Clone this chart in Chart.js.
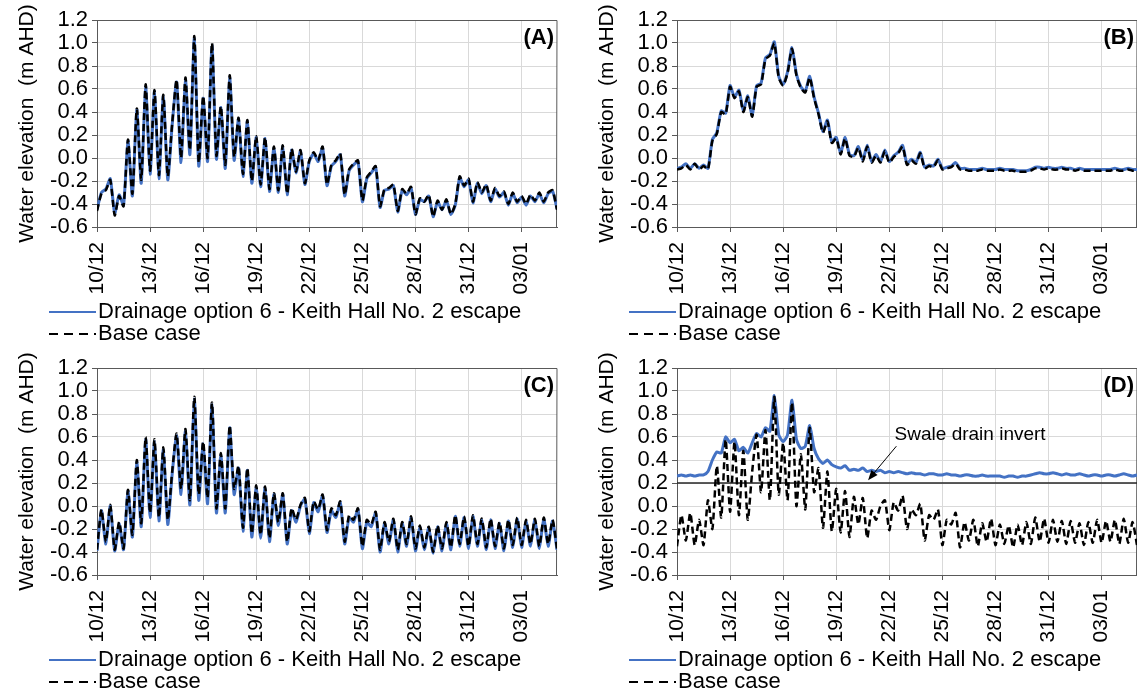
<!DOCTYPE html>
<html>
<head>
<meta charset="utf-8">
<script src="https://cdn.jsdelivr.net/npm/chart.js@4.4.1/dist/chart.umd.min.js"></script>
<style>
  html, body { margin: 0; padding: 0; background: #fff; overflow: hidden; }
  #page { position: relative; width: 1137px; height: 693px; overflow: hidden; }
  .panel { position: absolute; width: 570px; height: 347px; }
</style>
</head>
<body>
<div id="page">
  <div class="panel" style="left:0;top:0"><canvas id="chartA"></canvas></div>
  <div class="panel" style="left:580px;top:0"><canvas id="chartB"></canvas></div>
  <div class="panel" style="left:0;top:348px"><canvas id="chartC"></canvas></div>
  <div class="panel" style="left:580px;top:348px"><canvas id="chartD"></canvas></div>
</div>
<script>
// x axis: days after 10/12 00:00, one value every 6 hours
const stepDays = 0.25;
const tickDays = [0, 3, 6, 9, 12, 15, 18, 21, 24];
const tickLabels = ['10/12', '13/12', '16/12', '19/12', '22/12', '25/12', '28/12', '31/12', '03/01'];
const yTicks = [-0.6, -0.4, -0.2, 0.0, 0.2, 0.4, 0.6, 0.8, 1.0, 1.2];

const optionLabel = 'Drainage option 6 - Keith Hall No. 2 escape';
const baseLabel = 'Base case';

// (A)
const optionA = [
  -0.45, -0.30, -0.27, -0.18, -0.48, -0.32, -0.41, 0.15,
  -0.33, 0.42, -0.22, 0.62, -0.14, 0.58, -0.18, 0.54,
  -0.19, 0.29, 0.66, -0.04, 0.68, 0.03, 1.04, -0.07,
  0.52, -0.03, 0.98, -0.01, 0.44, -0.09, 0.70, -0.02,
  0.34, -0.16, 0.32, -0.22, 0.18, -0.25, 0.17, -0.29,
  0.09, -0.30, 0.10, -0.32, 0.07, -0.13, 0.06, -0.23,
  -0.03, 0.04, -0.03, 0.09, -0.24, -0.07, -0.03, 0.03,
  -0.33, -0.11, -0.06, -0.03, -0.38, -0.18, -0.13, -0.08,
  -0.43, -0.28, -0.27, -0.24, -0.47, -0.28, -0.32, -0.26,
  -0.49, -0.36, -0.38, -0.33, -0.51, -0.38, -0.45, -0.37,
  -0.49, -0.41, -0.17, -0.25, -0.19, -0.39, -0.22, -0.31,
  -0.24, -0.38, -0.27, -0.34, -0.30, -0.41, -0.31, -0.39,
  -0.34, -0.41, -0.33, -0.38, -0.31, -0.39, -0.31, -0.29,
  -0.44
];
const baseA = [
  -0.46, -0.31, -0.28, -0.19, -0.50, -0.33, -0.42, 0.16,
  -0.31, 0.43, -0.19, 0.64, -0.11, 0.59, -0.15, 0.55,
  -0.16, 0.30, 0.68, 0.00, 0.70, 0.07, 1.06, -0.04,
  0.54, 0.00, 1.00, 0.02, 0.45, -0.06, 0.72, 0.01,
  0.35, -0.14, 0.33, -0.20, 0.19, -0.23, 0.18, -0.27,
  0.10, -0.28, 0.11, -0.31, 0.08, -0.12, 0.07, -0.22,
  -0.02, 0.05, -0.02, 0.10, -0.23, -0.06, -0.02, 0.04,
  -0.32, -0.10, -0.05, -0.02, -0.37, -0.17, -0.12, -0.07,
  -0.42, -0.27, -0.26, -0.23, -0.46, -0.27, -0.31, -0.25,
  -0.49, -0.35, -0.38, -0.32, -0.51, -0.37, -0.45, -0.36,
  -0.49, -0.40, -0.16, -0.24, -0.18, -0.38, -0.21, -0.30,
  -0.23, -0.37, -0.26, -0.33, -0.29, -0.40, -0.30, -0.38,
  -0.33, -0.40, -0.32, -0.37, -0.30, -0.38, -0.30, -0.28,
  -0.45
];

// (B)
const optionB = [
  -0.09, -0.08, -0.05, -0.09, -0.05, -0.09, -0.06, -0.09,
  0.16, 0.22, 0.41, 0.39, 0.63, 0.53, 0.59, 0.41,
  0.54, 0.37, 0.63, 0.65, 0.87, 0.90, 1.01, 0.71,
  0.64, 0.75, 0.96, 0.73, 0.62, 0.58, 0.71, 0.53,
  0.39, 0.23, 0.33, 0.14, 0.18, 0.04, 0.18, 0.03,
  0.02, 0.10, -0.02, 0.11, -0.03, 0.03, -0.03, 0.07,
  -0.03, 0.02, 0.05, 0.11, -0.05, -0.01, -0.04, 0.05,
  -0.08, -0.06, -0.07, -0.01, -0.09, -0.08, -0.07, -0.04,
  -0.09, -0.09, -0.10, -0.10, -0.10, -0.09, -0.10, -0.10,
  -0.10, -0.09, -0.10, -0.10, -0.10, -0.11, -0.11, -0.11,
  -0.10, -0.08, -0.08, -0.09, -0.08, -0.09, -0.09, -0.08,
  -0.09, -0.09, -0.10, -0.09, -0.10, -0.10, -0.10, -0.10,
  -0.10, -0.10, -0.10, -0.09, -0.10, -0.10, -0.09, -0.10,
  -0.10
];
const baseB = [
  -0.10, -0.09, -0.06, -0.10, -0.05, -0.10, -0.07, -0.10,
  0.15, 0.21, 0.40, 0.38, 0.62, 0.52, 0.58, 0.40,
  0.53, 0.36, 0.62, 0.64, 0.86, 0.89, 1.00, 0.70,
  0.63, 0.74, 0.95, 0.72, 0.61, 0.57, 0.70, 0.52,
  0.38, 0.22, 0.32, 0.13, 0.17, 0.03, 0.17, 0.02,
  0.01, 0.09, -0.03, 0.10, -0.04, 0.02, -0.04, 0.06,
  -0.04, 0.01, 0.04, 0.10, -0.06, -0.02, -0.05, 0.04,
  -0.09, -0.07, -0.08, -0.02, -0.10, -0.09, -0.08, -0.05,
  -0.10, -0.10, -0.11, -0.11, -0.11, -0.10, -0.11, -0.11,
  -0.11, -0.10, -0.11, -0.11, -0.11, -0.12, -0.12, -0.12,
  -0.11, -0.09, -0.09, -0.10, -0.09, -0.10, -0.10, -0.09,
  -0.10, -0.10, -0.11, -0.10, -0.11, -0.11, -0.11, -0.11,
  -0.11, -0.11, -0.11, -0.10, -0.11, -0.11, -0.10, -0.11,
  -0.11
];

// (C)
const optionC = [
  -0.39, -0.04, -0.33, 0.00, -0.39, -0.15, -0.38, 0.13,
  -0.27, 0.38, -0.18, 0.58, -0.10, 0.56, -0.13, 0.49,
  -0.16, 0.28, 0.61, 0.10, 0.65, 0.01, 0.93, 0.05,
  0.54, 0.02, 0.88, -0.06, 0.44, -0.06, 0.68, 0.10,
  0.33, -0.22, 0.31, -0.27, 0.16, -0.28, 0.16, -0.31,
  0.10, -0.17, 0.10, -0.33, -0.04, -0.14, 0.00, 0.06,
  -0.24, 0.03, -0.05, 0.09, -0.23, -0.04, -0.10, 0.03,
  -0.33, -0.10, -0.14, -0.03, -0.37, -0.14, -0.18, -0.06,
  -0.40, -0.15, -0.33, -0.12, -0.40, -0.15, -0.35, -0.10,
  -0.39, -0.18, -0.38, -0.19, -0.41, -0.18, -0.39, -0.15,
  -0.38, -0.09, -0.35, -0.10, -0.37, -0.09, -0.35, -0.12,
  -0.38, -0.12, -0.37, -0.15, -0.39, -0.13, -0.36, -0.11,
  -0.36, -0.13, -0.35, -0.12, -0.37, -0.11, -0.35, -0.13,
  -0.38
];
const baseC = [
  -0.38, -0.03, -0.31, 0.01, -0.38, -0.14, -0.37, 0.14,
  -0.25, 0.40, -0.15, 0.60, -0.06, 0.58, -0.10, 0.51,
  -0.12, 0.30, 0.63, 0.15, 0.67, 0.05, 0.95, 0.10,
  0.56, 0.07, 0.90, -0.02, 0.46, -0.02, 0.70, 0.15,
  0.35, -0.19, 0.33, -0.24, 0.18, -0.25, 0.17, -0.28,
  0.11, -0.14, 0.11, -0.31, -0.02, -0.12, 0.01, 0.07,
  -0.22, 0.04, -0.03, 0.10, -0.21, -0.02, -0.08, 0.04,
  -0.31, -0.08, -0.12, -0.02, -0.35, -0.12, -0.16, -0.05,
  -0.38, -0.14, -0.31, -0.11, -0.38, -0.14, -0.33, -0.09,
  -0.37, -0.17, -0.36, -0.18, -0.40, -0.17, -0.37, -0.14,
  -0.36, -0.08, -0.33, -0.09, -0.35, -0.08, -0.33, -0.11,
  -0.36, -0.11, -0.35, -0.14, -0.37, -0.12, -0.34, -0.10,
  -0.34, -0.12, -0.33, -0.11, -0.35, -0.10, -0.33, -0.12,
  -0.37
];

// (D)
const optionD = [
  0.26, 0.27, 0.26, 0.27, 0.26, 0.27, 0.27, 0.30,
  0.40, 0.47, 0.46, 0.60, 0.55, 0.58, 0.48, 0.51,
  0.46, 0.55, 0.63, 0.60, 0.68, 0.65, 0.96, 0.62,
  0.56, 0.62, 0.92, 0.58, 0.50, 0.52, 0.70, 0.50,
  0.41, 0.37, 0.40, 0.36, 0.34, 0.33, 0.35, 0.31,
  0.32, 0.31, 0.33, 0.30, 0.31, 0.30, 0.31, 0.29,
  0.30, 0.29, 0.30, 0.29, 0.28, 0.29, 0.28, 0.28,
  0.27, 0.28, 0.28, 0.27, 0.27, 0.28, 0.27, 0.27,
  0.26, 0.27, 0.27, 0.26, 0.26, 0.27, 0.26, 0.26,
  0.26, 0.26, 0.25, 0.26, 0.26, 0.25, 0.26, 0.26,
  0.27, 0.28, 0.29, 0.28, 0.28, 0.29, 0.28, 0.27,
  0.28, 0.27, 0.27, 0.28, 0.27, 0.26, 0.27, 0.27,
  0.26, 0.27, 0.27, 0.26, 0.27, 0.28, 0.27, 0.26,
  0.27
];
const baseD = [
  -0.35, -0.08, -0.30, -0.06, -0.34, -0.12, -0.34, 0.05,
  -0.20, 0.35, -0.10, 0.58, -0.05, 0.56, -0.08, 0.48,
  -0.12, 0.30, 0.62, 0.12, 0.66, 0.05, 0.95, 0.10,
  0.55, 0.05, 0.90, 0.00, 0.45, -0.03, 0.68, 0.12,
  0.33, -0.19, 0.30, -0.22, 0.15, -0.23, 0.13, -0.27,
  0.08, -0.16, 0.07, -0.28, -0.04, -0.12, 0.00, 0.05,
  -0.21, 0.03, -0.04, 0.09, -0.20, -0.03, -0.08, 0.02,
  -0.30, -0.08, -0.12, -0.03, -0.34, -0.12, -0.16, -0.06,
  -0.36, -0.14, -0.30, -0.12, -0.35, -0.15, -0.31, -0.11,
  -0.34, -0.16, -0.33, -0.17, -0.36, -0.16, -0.34, -0.14,
  -0.33, -0.10, -0.31, -0.11, -0.32, -0.12, -0.31, -0.13,
  -0.33, -0.13, -0.32, -0.15, -0.34, -0.14, -0.32, -0.12,
  -0.32, -0.13, -0.31, -0.12, -0.33, -0.11, -0.32, -0.14,
  -0.34
];

// swale drain invert level shown in (D)
const invertLevel = 0.2;
const invertNote = 'Swale drain invert';

Chart.defaults.font.family = "'Liberation Sans', Arial, sans-serif";
Chart.defaults.font.size = 22;
Chart.defaults.color = '#000';

function toPoints(values) {
  return values.map(function (v, i) { return { x: i * stepDays, y: v }; });
}

// frame, panel tag, legend and the note in (D)
const panelExtras = {
  id: 'panelExtras',
  beforeDatasetsDraw: function (chart) {
    const a = chart.chartArea, ctx = chart.ctx;
    ctx.save();
    ctx.strokeStyle = '#595959';
    ctx.lineWidth = 1;
    ctx.beginPath();
    ctx.moveTo(a.left, a.top + 0.5);
    ctx.lineTo(a.right, a.top + 0.5);
    ctx.lineTo(a.right - 0.5, a.bottom);
    ctx.stroke();
    ctx.restore();
  },
  afterDraw: function (chart, args, opts) {
    const a = chart.chartArea, ctx = chart.ctx;
    ctx.save();
    // panel tag
    ctx.font = 'bold 22px "Liberation Sans", Arial, sans-serif';
    ctx.fillStyle = '#000';
    ctx.textAlign = 'right';
    ctx.textBaseline = 'middle';
    ctx.fillText(opts.tag, a.right - 3, a.top + 18);

    // legend under the axis
    ctx.font = '22px "Liberation Sans", Arial, sans-serif';
    ctx.textAlign = 'left';
    let row = 0;
    chart.data.datasets.forEach(function (ds) {
      if (ds.inLegend === false) return;
      const y = a.bottom + 85 + row * 22;
      ctx.beginPath();
      ctx.strokeStyle = ds.borderColor;
      ctx.lineWidth = 2;
      ctx.setLineDash(ds.borderDash ? [9, 6] : []);
      ctx.moveTo(a.left - 48, y);
      ctx.lineTo(a.left - 1, y);
      ctx.stroke();
      ctx.setLineDash([]);
      ctx.fillStyle = '#000';
      ctx.fillText(ds.label, a.left + 1, y);
      row++;
    });

    // note with arrow
    if (opts.note) {
      const xs = chart.scales.x, ys = chart.scales.y;
      const n = opts.note;
      ctx.font = '19px "Liberation Sans", Arial, sans-serif';
      ctx.fillText(n.text, xs.getPixelForValue(n.textDay), ys.getPixelForValue(n.textLevel));
      const x0 = xs.getPixelForValue(n.fromDay), y0 = ys.getPixelForValue(n.fromLevel);
      const x1 = xs.getPixelForValue(n.toDay), y1 = ys.getPixelForValue(n.toLevel);
      const ang = Math.atan2(y1 - y0, x1 - x0);
      ctx.strokeStyle = '#000';
      ctx.lineWidth = 1;
      ctx.beginPath();
      ctx.moveTo(x0, y0);
      ctx.lineTo(x1 - 6 * Math.cos(ang), y1 - 6 * Math.sin(ang));
      ctx.stroke();
      ctx.beginPath();
      ctx.moveTo(x1, y1);
      ctx.lineTo(x1 - 10 * Math.cos(ang) + 4 * Math.sin(ang), y1 - 10 * Math.sin(ang) - 4 * Math.cos(ang));
      ctx.lineTo(x1 - 10 * Math.cos(ang) - 4 * Math.sin(ang), y1 - 10 * Math.sin(ang) + 4 * Math.cos(ang));
      ctx.closePath();
      ctx.fillStyle = '#000';
      ctx.fill();
    }
    ctx.restore();
  }
};

function makeChart(id, tag, optionValues, baseValues, note) {
  const datasets = [
    {
      label: optionLabel,
      data: toPoints(optionValues),
      borderColor: '#4472c4',
      borderWidth: 3,
      pointRadius: 0,
      tension: 0.2,
      order: 2
    },
    {
      label: baseLabel,
      data: toPoints(baseValues),
      borderColor: '#000',
      borderWidth: 2.5,
      borderDash: [7, 4],
      pointRadius: 0,
      tension: 0.2,
      order: 1
    }
  ];
  if (note) {
    datasets.push({
      label: invertNote,
      inLegend: false,
      data: [{ x: 0, y: invertLevel }, { x: 26, y: invertLevel }],
      borderColor: '#262626',
      borderWidth: 1.5,
      pointRadius: 0,
      order: 3
    });
  }

  return new Chart(document.getElementById(id), {
    type: 'line',
    data: { datasets: datasets },
    plugins: [panelExtras],
    options: {
      responsive: true,
      maintainAspectRatio: false,
      animation: false,
      layout: { padding: { left: 0, right: 13, top: 20, bottom: 0 } },
      plugins: {
        legend: { display: false },
        tooltip: { enabled: false },
        panelExtras: { tag: tag, note: note }
      },
      scales: {
        x: {
          type: 'linear',
          min: 0,
          max: 26,
          afterBuildTicks: function (s) { s.ticks = tickDays.map(function (v) { return { value: v }; }); },
          afterFit: function (s) { s.height = 120; },
          ticks: {
            autoSkip: false,
            minRotation: 90,
            maxRotation: 90,
            padding: 10,
            font: { size: 21 },
            callback: function (v) { return tickLabels[tickDays.indexOf(v)]; }
          },
          grid: { color: '#d9d9d9', tickColor: '#595959', tickLength: 5 },
          border: { color: '#595959' }
        },
        y: {
          min: -0.6,
          max: 1.2,
          afterBuildTicks: function (s) { s.ticks = yTicks.map(function (v) { return { value: v }; }); },
          afterFit: function (s) { s.width = 97; },
          ticks: {
            autoSkip: false,
            padding: 4,
            callback: function (v) { return v.toFixed(1); }
          },
          title: {
            display: true,
            text: 'Water elevation  (m AHD)',
            font: { size: 21 },
            padding: { top: 15, bottom: 0 }
          },
          grid: { color: '#d9d9d9', tickColor: '#595959', tickLength: 5 },
          border: { color: '#595959' }
        }
      }
    }
  });
}

makeChart('chartA', '(A)', optionA, baseA, null);
makeChart('chartB', '(B)', optionB, baseB, null);
makeChart('chartC', '(C)', optionC, baseC, null);
makeChart('chartD', '(D)', optionD, baseD, {
  text: invertNote,
  textDay: 12.3, textLevel: 0.62,
  fromDay: 12.4, fromLevel: 0.52,
  toDay: 10.8, toLevel: 0.225
});
</script>
</body>
</html>
